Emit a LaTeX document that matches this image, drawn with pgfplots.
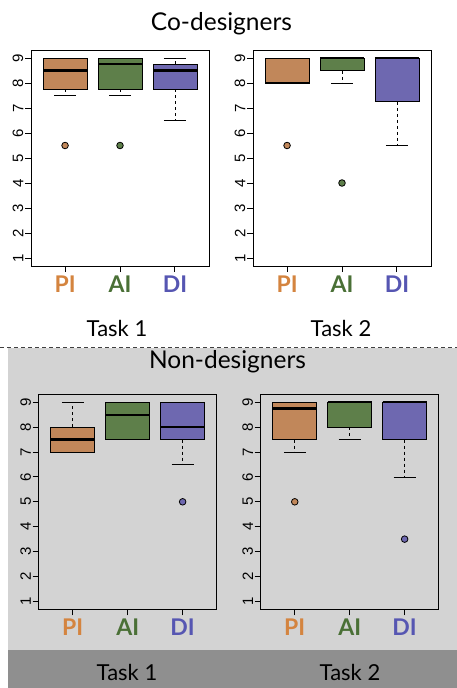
\documentclass[border=0pt]{standalone}
\usepackage{fontspec}
\setmainfont{Lato}
\newfontfamily\helv{Liberation Sans}
\usepackage{pgfplots}
\pgfplotsset{compat=1.18}
\usepgfplotslibrary{statistics}
\definecolor{pifill}{HTML}{C1875A}
\definecolor{aifill}{HTML}{5E7F4A}
\definecolor{difill}{HTML}{6E68B0}
\definecolor{pilab}{HTML}{D4843F}
\definecolor{ailab}{HTML}{4A7036}
\definecolor{dilab}{HTML}{5656B2}
\definecolor{panelgray}{HTML}{D3D3D3}
\definecolor{bandgray}{HTML}{8F8F8F}
\pgfplotsset{
  boxplot/draw/lower whisker/.code={%
    \draw[dash pattern=on 3pt off 3pt, line width=0.8pt]
      (boxplot cs:\pgfplotsboxplotvalue{lower quartile}) -- (boxplot cs:\pgfplotsboxplotvalue{lower whisker});
    \draw[line width=0.8pt]
      (boxplot whisker cs:\pgfplotsboxplotvalue{lower whisker},0) -- (boxplot whisker cs:\pgfplotsboxplotvalue{lower whisker},1);
  },
  boxplot/draw/upper whisker/.code={%
    \draw[dash pattern=on 3pt off 3pt, line width=0.8pt]
      (boxplot cs:\pgfplotsboxplotvalue{upper quartile}) -- (boxplot cs:\pgfplotsboxplotvalue{upper whisker});
    \draw[line width=0.8pt]
      (boxplot whisker cs:\pgfplotsboxplotvalue{upper whisker},0) -- (boxplot whisker cs:\pgfplotsboxplotvalue{upper whisker},1);
  },
  rbox/.style={
    scale only axis, width=178pt, height=216pt,
    xmin=0.38, xmax=3.62, ymin=0.68, ymax=9.32,
    xtick={1,2,3}, xticklabels={\textcolor{pilab}{PI},\textcolor{ailab}{AI},\textcolor{dilab}{DI}},
    ytick={1,2,3,4,5,6,7,8,9},
    yticklabels={1,2,3,4,5,6,7,8,9},
    xtick pos=lower, ytick pos=left,
    tick align=outside, major tick length=6pt,
    axis line style={line width=0.9pt, black},
    every tick/.style={line width=0.9pt, black},
    /pgf/number format/assume math mode=true,
    yticklabel style={font=\helv\fontsize{15}{15}\selectfont, rotate=90, anchor=south, inner sep=1.5pt},
    xticklabel style={font=\bfseries\fontsize{23}{23}\selectfont},
    boxplot/draw direction=y,
    boxplot/box extend=0.8,
    boxplot/whisker extend=0.4,
    boxplot/every box/.style={draw=black, line width=0.8pt},
    boxplot/every median/.style={draw=black, line width=2.4pt},
  },
  pi/.style={draw=black, boxplot/draw position=1, boxplot/every box/.append style={fill=pifill},
    mark=*, mark size=3.3pt, mark options={fill=pifill, draw=black, solid, line width=0.8pt}},
  ai/.style={draw=black, boxplot/draw position=2, boxplot/every box/.append style={fill=aifill},
    mark=*, mark size=3.3pt, mark options={fill=aifill, draw=black, solid, line width=0.8pt}},
  di/.style={draw=black, boxplot/draw position=3, boxplot/every box/.append style={fill=difill},
    mark=*, mark size=3.3pt, mark options={fill=difill, draw=black, solid, line width=0.8pt}},
}
\begin{document}
\begin{tikzpicture}
\useasboundingbox (0pt,0pt) rectangle (457pt,-688pt);
% backgrounds
\fill[panelgray] (8pt,-348pt) rectangle (457pt,-650pt);
\fill[bandgray] (8pt,-650pt) rectangle (457pt,-688pt);
\draw[black!75, line width=0.9pt, dash pattern=on 4pt off 3pt] (0pt,-347.5pt) -- (457pt,-347.5pt);
% titles
\node[anchor=base, font=\fontsize{24.5}{25}\selectfont] at (221.5pt,-30.7pt) {Co-designers};
\node[anchor=base, font=\fontsize{22}{22}\selectfont] at (117pt,-336pt) {Task 1};
\node[anchor=base, font=\fontsize{22}{22}\selectfont] at (341pt,-336pt) {Task 2};
\node[anchor=base, font=\fontsize{24.5}{25}\selectfont] at (227.5pt,-368pt) {Non-designers};
\node[anchor=base, font=\fontsize{22}{22}\selectfont] at (127pt,-680pt) {Task 1};
\node[anchor=base, font=\fontsize{22}{22}\selectfont] at (350pt,-680pt) {Task 2};

% Co-designers, Task 1
\begin{axis}[rbox, at={(31pt,-266pt)}, anchor=south west]
\addplot[pi, boxplot prepared={lower whisker=7.5, lower quartile=7.75, median=8.5, upper quartile=9, upper whisker=9}]
  table[row sep=\\, y index=0] {data\\ 5.5\\};
\addplot[ai, boxplot prepared={lower whisker=7.5, lower quartile=7.75, median=8.75, upper quartile=9, upper whisker=9}]
  table[row sep=\\, y index=0] {data\\ 5.5\\};
\addplot[di, boxplot prepared={lower whisker=6.5, lower quartile=7.75, median=8.5, upper quartile=8.75, upper whisker=9}]
  coordinates {};
\end{axis}

% Co-designers, Task 2
\begin{axis}[rbox, at={(253pt,-266pt)}, anchor=south west]
\addplot[pi, boxplot prepared={lower whisker=8, lower quartile=8, median=8, upper quartile=9, upper whisker=9}]
  table[row sep=\\, y index=0] {data\\ 5.5\\};
\addplot[ai, boxplot prepared={lower whisker=8, lower quartile=8.5, median=9, upper quartile=9, upper whisker=9}]
  table[row sep=\\, y index=0] {data\\ 4\\};
\addplot[di, boxplot prepared={lower whisker=5.5, lower quartile=7.25, median=9, upper quartile=9, upper whisker=9}]
  coordinates {};
\end{axis}

% Non-designers, Task 1
\begin{axis}[rbox, height=215pt, at={(38.7pt,-609.3pt)}, anchor=south west]
\addplot[pi, boxplot prepared={lower whisker=7, lower quartile=7, median=7.5, upper quartile=8, upper whisker=9}]
  coordinates {};
\addplot[ai, boxplot prepared={lower whisker=7.5, lower quartile=7.5, median=8.5, upper quartile=9, upper whisker=9}]
  coordinates {};
\addplot[di, boxplot prepared={lower whisker=6.5, lower quartile=7.5, median=8, upper quartile=9, upper whisker=9}]
  table[row sep=\\, y index=0] {data\\ 5\\};
\end{axis}

% Non-designers, Task 2
\begin{axis}[rbox, height=215pt, at={(260.7pt,-609.3pt)}, anchor=south west]
\addplot[pi, boxplot prepared={lower whisker=7, lower quartile=7.5, median=8.75, upper quartile=9, upper whisker=9}]
  table[row sep=\\, y index=0] {data\\ 5\\};
\addplot[ai, boxplot prepared={lower whisker=7.5, lower quartile=8, median=9, upper quartile=9, upper whisker=9}]
  coordinates {};
\addplot[di, boxplot prepared={lower whisker=6, lower quartile=7.5, median=9, upper quartile=9, upper whisker=9}]
  table[row sep=\\, y index=0] {data\\ 3.5\\};
\end{axis}
\end{tikzpicture}
\end{document}
